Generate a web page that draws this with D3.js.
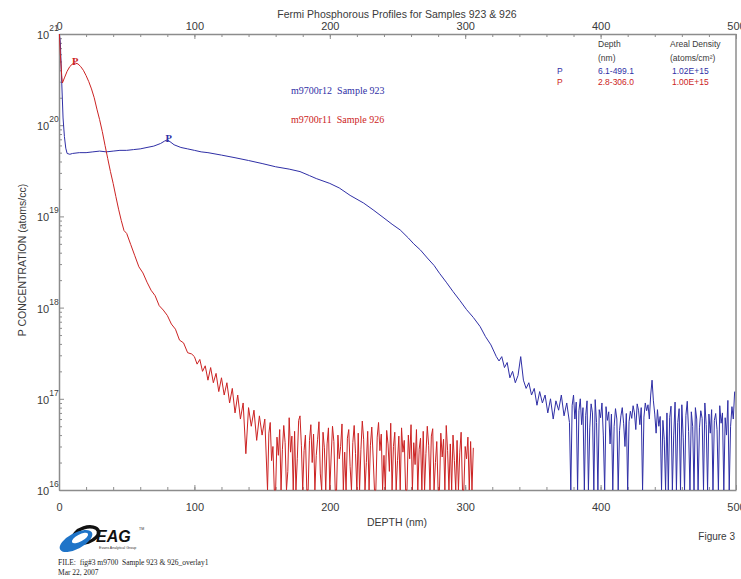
<!DOCTYPE html>
<html><head><meta charset="utf-8">
<script src="https://cdn.jsdelivr.net/npm/d3@7"></script>
<style>body{margin:0;background:#fff}svg{display:block}</style>
</head><body><svg id="c" width="741" height="579"></svg>
<script>
// ---------------- DATA ----------------
const title = "Fermi Phosphorous Profiles for Samples 923 & 926";
const xTickLabels = [0, 100, 200, 300, 400, 500];
const yTickExponents = [16, 17, 18, 19, 20, 21];

// Sample 923 (m9700r12) - blue, head (depth nm, atoms/cc)
const depth923 = [0.3,1,2,3,4,5,6,8,10,15,20,25,30,35,40,45,50,55,60,65,70,75,78,80,82,85,90,95,100,105,110,
 120,130,140,150,160,170,178,185,190,200,207,215,225,232,240,246,252,258,262,267,272,277,281,286,291,296,301,306,311,315,319,323,
 325,327,329,331,333,335,337,339,341,343,345,347,349,351,353,355,357,359,361,363,365,367,369,371,373,375,377];
const conc923 = [1.0e21,8e20,3e20,1.2e20,7.5e19,5.6e19,4.9e19,4.8e19,4.9e19,5.0e19,5.0e19,5.1e19,5.2e19,5.1e19,5.2e19,5.3e19,5.3e19,5.4e19,5.5e19,5.7e19,5.9e19,6.3e19,6.7e19,6.9e19,6.6e19,6.1e19,5.7e19,5.5e19,5.3e19,5.1e19,5.0e19,
 4.7e19,4.4e19,4.1e19,3.8e19,3.5e19,3.3e19,3.1e19,2.8e19,2.6e19,2.3e19,2.05e19,1.7e19,1.4e19,1.18e19,9.6e18,8.2e18,7.1e18,5.8e18,5.0e18,4.27e18,3.5e18,2.9e18,2.38e18,1.9e18,1.5e18,1.2e18,9.5e17,7.8e17,6.2e17,4.8e17,3.9e17,2.9e17,
 2.6e17,2.9e17,2.2e17,2.5e17,1.7e17,2.0e17,1.5e17,1.8e17,2.9e17,1.6e17,1.3e17,1.5e17,1.1e17,1.3e17,8.5e16,1.2e17,9.0e16,1.1e17,7.0e16,1.0e17,6.0e16,9.5e16,7.5e16,1.1e17,6.5e16,9.0e16,5.5e16];
// Sample 923 tail, 1 nm steps from 378 to 499 nm, in units of 1e16 atoms/cc (1 = detection floor)
const depth923Tail = d3.range(378, 500);
const conc923TailE16 = [1,8.5,11,6.0,9.2,1,7.4,10,5.2,8.0,1,6.6,9.5,1,4.8,8.8,7.0,1,9.8,5.5,1,7.6,6.2,9.0,4.0,1,8.2,5.8,7.2,3.2,6.8,1,5.0,7.8,6.0,1,4.5,6.5,8.0,5.4,
 3.0,6.9,1,5.6,7.3,6.1,8.4,7.0,4.6,8.8,7.5,5.2,8.0,1,6.3,9.0,7.4,8.6,6.0,11,16,9.5,6.8,4.2,7.6,5.0,6.4,1,5.8,3.6,1,7.0,1,6.2,8.3,1,4.0,9.2,1,5.5,
 7.8,1,8.6,3.8,1,6.6,9.4,4.4,1,7.2,5.0,1,8.0,6.0,1,4.8,7.4,6.1,1,9.0,5.2,1,6.8,4.2,7.6,1,5.8,6.9,4.6,1,8.4,5.4,7.0,1,6.2,4.0,9.6,1,5.0,8.2,6.0,12];

// Sample 926 (m9700r11) - red, head (depth nm, atoms/cc)
const depth926 = [0.3,1,2,2.5,4,6,8,10,12,14,16,18,20,22,24,26,28,30,32,34,36,38,40,42,44,46,48,50,53,56,59,62,65,68,71,74,77,80,83,86,89,92,95,98,
 100,102,104,106,108,110,112,114,116,118,120,122,124,126,128,130,132,134,136,138,140,142,144,146,148,150,152];
const conc926 = [1.0e21,6e20,3.5e20,2.9e20,3.3e20,3.9e20,4.4e20,4.7e20,4.8e20,4.7e20,4.4e20,4.0e20,3.5e20,3.0e20,2.5e20,2.0e20,1.5e20,1.15e20,8.5e19,6.0e19,4.3e19,3.1e19,2.3e19,1.65e19,1.2e19,9.0e18,7.0e18,6.5e18,4.9e18,3.7e18,2.8e18,2.4e18,1.9e18,1.55e18,1.35e18,1.05e18,9.4e17,8.2e17,6.6e17,5.8e17,4.4e17,4.1e17,3.2e17,3.1e17,
 2.9e17,2.4e17,2.7e17,2.0e17,2.3e17,1.6e17,2.2e17,1.5e17,1.9e17,1.2e17,1.7e17,1.1e17,1.5e17,9.0e16,1.3e17,7.0e16,1.1e17,6.0e16,9.0e16,2.5e16,8.0e16,5.0e16,7.5e16,3.5e16,6.5e16,4.0e16,6.0e16];
// Sample 926 tail, 1 nm steps from 154 to 306 nm, in units of 1e16 atoms/cc (1 = detection floor)
const depth926Tail = d3.range(154, 307);
const conc926TailE16 = [1,4.2,5.5,2.1,3.0,1,1,3.8,2.4,4.6,1,2.8,5.1,3.3,1,1.6,6.2,2.6,3.9,1,4.4,1,2.2,5.8,6.5,3.1,1,2.7,4.0,1,1,3.5,5.2,2.0,4.1,1,2.4,3.6,5.6,1.5,
 1,4.3,2.9,1,3.2,4.8,1,2.3,5.0,3.4,1,1,4.0,2.2,3.0,5.3,1,2.6,1,3.7,4.6,1.8,1,3.3,5.1,2.5,1,4.2,1,2.8,5.7,3.6,1,2.0,4.4,1,3.1,4.9,2.3,1,
 1,3.8,5.5,2.7,4.1,1,2.4,1,4.5,3.2,1.6,5.4,1,3.0,4.3,1,2.1,3.9,1,4.8,2.6,3.5,1,1,4.0,2.2,5.2,1,3.3,1.9,4.6,1,2.8,3.7,1,4.4,1,2.5,
 5.0,3.1,1,3.9,4.7,1,2.0,3.4,1,1,4.2,2.3,3.6,1,5.1,2.7,1,3.2,1,4.0,2.1,1,3.5,1,2.6,4.3,1,1,3.0,2.2,3.8,1,3.4,1,2.9];

const seriesNames = ["m9700r12  Sample 923", "m9700r11  Sample 926"];
const seriesColors = ["#2f2fa6", "#cc2323"];
const legendHeader = [["Depth", "Areal Density"], ["(nm)", "(atoms/cm\u00B2)"]];
const legendRows = [["P", "6.1-499.1", "1.02E+15"], ["P", "2.8-306.0", "1.00E+15"]];
const peakLabels = [{d: 81, c: 6.9e19}, {d: 12, c: 4.8e20}];

// ---------------- CHART ----------------
const svg = d3.select("#c");
const L = 59, R = 736, T = 34, B = 490;
const x = d3.scaleLinear().domain([0, 500]).range([L, R]);
const y = d3.scaleLog().domain([1e16, 1e21]).range([B, T]).clamp(true);
const axisCol = "#8c8c8c", txtCol = "#3a3a3a";
const sans = "'Liberation Sans', Arial, sans-serif";
const serif = "'Liberation Serif', 'Times New Roman', serif";

svg.append("text").attr("x", 397).attr("y", 18).attr("text-anchor", "middle")
  .attr("font-family", sans).attr("font-size", 10.5).attr("fill", txtCol).text(title);

function styleAxis(g) {
  g.selectAll("path").attr("stroke", axisCol).attr("stroke-width", 1.5);
  g.selectAll("line").attr("stroke", axisCol);
  g.selectAll("text").attr("font-family", sans).attr("font-size", 11).attr("fill", txtCol);
}
const minorX = d3.range(0, 501, 20);
svg.append("g").attr("transform", `translate(0,${T})`)
  .call(d3.axisTop(x).tickValues(minorX).tickSize(-3).tickSizeOuter(0).tickFormat(""))
  .call(styleAxis);
svg.append("g").attr("transform", `translate(0,${T})`)
  .call(d3.axisTop(x).tickValues(xTickLabels).tickSize(-5).tickSizeOuter(0).tickPadding(4).tickFormat(d3.format("d")))
  .call(styleAxis).call(g => g.select(".domain").remove());
svg.append("g").attr("transform", `translate(0,${B})`)
  .call(d3.axisBottom(x).tickValues(minorX).tickSize(-3).tickSizeOuter(0).tickFormat(""))
  .call(styleAxis);
svg.append("g").attr("transform", `translate(0,${B})`)
  .call(d3.axisBottom(x).tickValues(xTickLabels).tickSize(-5).tickSizeOuter(0).tickPadding(13).tickFormat(d3.format("d")))
  .call(styleAxis).call(g => g.select(".domain").remove());
const minorY = [];
for (let e = 16; e < 21; e++) for (let m = 2; m <= 9; m++) minorY.push(m * Math.pow(10, e));
svg.append("g").attr("transform", `translate(${L},0)`)
  .call(d3.axisLeft(y).tickValues(minorY).tickSize(-3).tickSizeOuter(0).tickFormat(""))
  .call(styleAxis);
svg.append("g").attr("transform", `translate(${L},0)`)
  .call(d3.axisLeft(y).tickValues(yTickExponents.map(e => Math.pow(10, e))).tickSize(-5).tickSizeOuter(0).tickFormat(""))
  .call(styleAxis).call(g => g.select(".domain").remove());
svg.append("line").attr("x1", R).attr("x2", R).attr("y1", T).attr("y2", B)
  .attr("stroke", axisCol).attr("stroke-width", 1.5);

yTickExponents.forEach(e => {
  const yy = y(Math.pow(10, e));
  const t = svg.append("text").attr("font-family", sans).attr("fill", txtCol)
    .attr("x", 37).attr("y", yy + 5).attr("font-size", 11);
  t.append("tspan").text("10");
  t.append("tspan").attr("dy", -8).attr("font-size", 8.5).text(e);
});

svg.append("text").attr("x", 397).attr("y", 526).attr("text-anchor", "middle")
  .attr("font-family", sans).attr("font-size", 10.5).attr("fill", txtCol).text("DEPTH (nm)");
svg.append("text").attr("transform", "translate(26,260) rotate(-90)").attr("text-anchor", "middle")
  .attr("font-family", sans).attr("font-size", 10.5).attr("fill", txtCol).text("P CONCENTRATION (atoms/cc)");
svg.append("text").attr("x", 735).attr("y", 540).attr("text-anchor", "end")
  .attr("font-family", sans).attr("font-size", 10).attr("fill", txtCol).text("Figure 3");

// lines
const line = d3.line().x(d => x(d[0])).y(d => y(d[1]));
const s923 = d3.zip(depth923, conc923).concat(d3.zip(depth923Tail, conc923TailE16.map(v => v * 1e16)));
const s926 = d3.zip(depth926, conc926).concat(d3.zip(depth926Tail, conc926TailE16.map(v => v * 1e16)));
[s923, s926].forEach((s, i) => {
  svg.append("path").datum(s).attr("d", line).attr("fill", "none")
    .attr("stroke", seriesColors[i]).attr("stroke-width", 1).attr("stroke-linejoin", "round");
});

peakLabels.forEach((p, i) => {
  svg.append("text").attr("x", x(p.d)).attr("y", y(p.c) + 2).attr("text-anchor", "middle")
    .attr("font-family", serif).attr("font-weight", "bold").attr("font-size", 10.5).attr("fill", seriesColors[i]).text("P");
});

seriesNames.forEach((n, i) => {
  svg.append("text").attr("x", 291).attr("y", 94 + i * 29).attr("font-family", serif)
    .attr("font-size", 10).attr("fill", seriesColors[i]).attr("xml:space", "preserve").text(n);
});

legendHeader.forEach((row, r) => {
  svg.append("text").attr("x", 598).attr("y", 47 + r * 14).attr("font-family", sans).attr("font-size", 8.5).attr("fill", txtCol).text(row[0]);
  svg.append("text").attr("x", 670).attr("y", 47 + r * 14).attr("font-family", sans).attr("font-size", 8.5).attr("fill", txtCol).text(row[1]);
});
legendRows.forEach((row, r) => {
  const yy = 74 + r * 11;
  svg.append("text").attr("x", 557).attr("y", yy).attr("font-family", sans).attr("font-size", 8.5).attr("fill", seriesColors[r]).text(row[0]);
  svg.append("text").attr("x", 598).attr("y", yy).attr("font-family", sans).attr("font-size", 8.5).attr("fill", seriesColors[r]).text(row[1]);
  svg.append("text").attr("x", 672).attr("y", yy).attr("font-family", sans).attr("font-size", 8.5).attr("fill", seriesColors[r]).text(row[2]);
});

// EAG logo
const logo = svg.append("g");
logo.append("ellipse").attr("cx", 86).attr("cy", 535).attr("rx", 13).attr("ry", 7.5)
  .attr("transform", "rotate(-18,86,535)").attr("fill", "none").attr("stroke", "#111").attr("stroke-width", 3.5);
logo.append("ellipse").attr("cx", 76).attr("cy", 541).attr("rx", 18).attr("ry", 8)
  .attr("transform", "rotate(-28,76,541)").attr("fill", "#1f74c8");
logo.append("ellipse").attr("cx", 80).attr("cy", 538).attr("rx", 9).attr("ry", 3.5)
  .attr("transform", "rotate(-28,80,538)").attr("fill", "#fff");
logo.append("text").attr("x", 96).attr("y", 542).attr("font-family", sans).attr("font-weight", "bold")
  .attr("font-style", "italic").attr("font-size", 16).attr("fill", "#111").text("EAG");
logo.append("text").attr("x", 139).attr("y", 530).attr("font-family", sans).attr("font-size", 3.5).attr("fill", "#333").text("TM");
logo.append("text").attr("x", 99).attr("y", 549).attr("font-family", sans).attr("font-size", 3.6).attr("fill", "#333").text("Evans Analytical Group");

svg.append("text").attr("x", 58).attr("y", 565).attr("font-family", serif).attr("font-size", 7.5).attr("fill", "#222")
  .attr("xml:space", "preserve").text("FILE:  fig#3 m9700  Sample 923 & 926_overlay1");
svg.append("text").attr("x", 58).attr("y", 575).attr("font-family", serif).attr("font-size", 7.5).attr("fill", "#222").text("Mar 22, 2007");
</script></body></html>
